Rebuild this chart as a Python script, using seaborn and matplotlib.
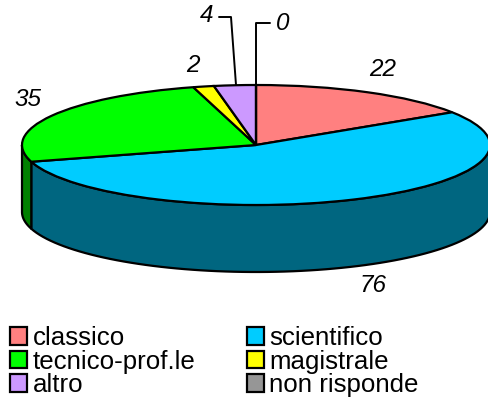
import numpy as np
import seaborn as sns
import matplotlib
matplotlib.use("Agg")
import matplotlib.pyplot as plt

categories = ["classico", "scientifico", "tecnico-prof.le", "magistrale", "altro", "non risponde"]
values = [22, 76, 35, 2, 4, 0]
colours = ["#FF8080", "#00CCFF", "#00FF00", "#FFFF00", "#CC99FF", "#969696"]
wall_colours = ["#804040", "#006680", "#008000", "#808000", "#664C80", "#4B4B4B"]

# pie geometry in pixels of the 489x400 picture
cx, cy, rx, ry, depth = 256, 145, 234, 60, 67

sns.set_theme(style="white")
plt.rcParams["font.family"] = ["Liberation Sans", "DejaVu Sans"]

fig = plt.figure(figsize=(4.89, 4.0), dpi=100)
ax = fig.add_axes([0, 0, 1, 1])


def py(y):
    # pixel row -> data y, a unit circle squashed to the ellipse
    return (cy - y) / ry


def px(x):
    return (x - cx) / rx


wedges, _ = ax.pie(values, colors=sns.color_palette(colours), startangle=90,
                   counterclock=False, radius=1,
                   wedgeprops={"edgecolor": "black", "linewidth": 1.6, "zorder": 3})
ax.set_aspect("auto")
ax.set_xlim(px(0), px(489))
ax.set_ylim(py(400), py(0))

# side wall, only the front half (90 to 270 degrees clockwise from the top)
drop = depth / ry
edges = np.concatenate([[0], np.cumsum(values)]) / sum(values) * 360
for i in range(len(values)):
    a0, a1 = max(edges[i], 90), min(edges[i + 1], 270)
    if a1 <= a0:
        continue
    t = np.radians(np.linspace(a0, a1, 80))
    xs = np.sin(t)
    ys = np.cos(t)
    ax.fill(np.r_[xs, xs[::-1]], np.r_[ys, ys[::-1] - drop],
            facecolor=wall_colours[i], edgecolor="black", linewidth=1.6, zorder=2)

# value labels
label_style = dict(fontsize=17.5, style="italic", color="black", ha="center", va="center", zorder=5)
ax.text(px(383), py(70), str(values[0]), **label_style)
ax.text(px(373), py(286), str(values[1]), **label_style)
ax.text(px(28), py(100), str(values[2]), **label_style)
ax.text(px(193), py(65), str(values[3]), **label_style)
ax.text(px(207), py(16), str(values[4]), **label_style)
ax.text(px(283), py(24), str(values[5]), **label_style)

# leader lines
ax.plot([px(219), px(231), px(236)], [py(17), py(17), py(85)], color="black", lw=1.4, zorder=4)
ax.plot([px(270), px(256), px(256)], [py(23), py(23), py(85)], color="black", lw=1.4, zorder=4)

# legend fills by column, the picture reads by row
order = [0, 2, 4, 1, 3, 5]
ax.legend([wedges[i] for i in order], [categories[i] for i in order], ncol=2,
          loc="lower left", bbox_to_anchor=(10 / 489, 3 / 400), frameon=False,
          fontsize=18.6, labelspacing=-0.02, handlelength=0.65, handleheight=0.65,
          handletextpad=0.22, columnspacing=2.0, borderpad=0, borderaxespad=0,
          labelcolor="black")

fig.savefig("out.png", dpi=100)
